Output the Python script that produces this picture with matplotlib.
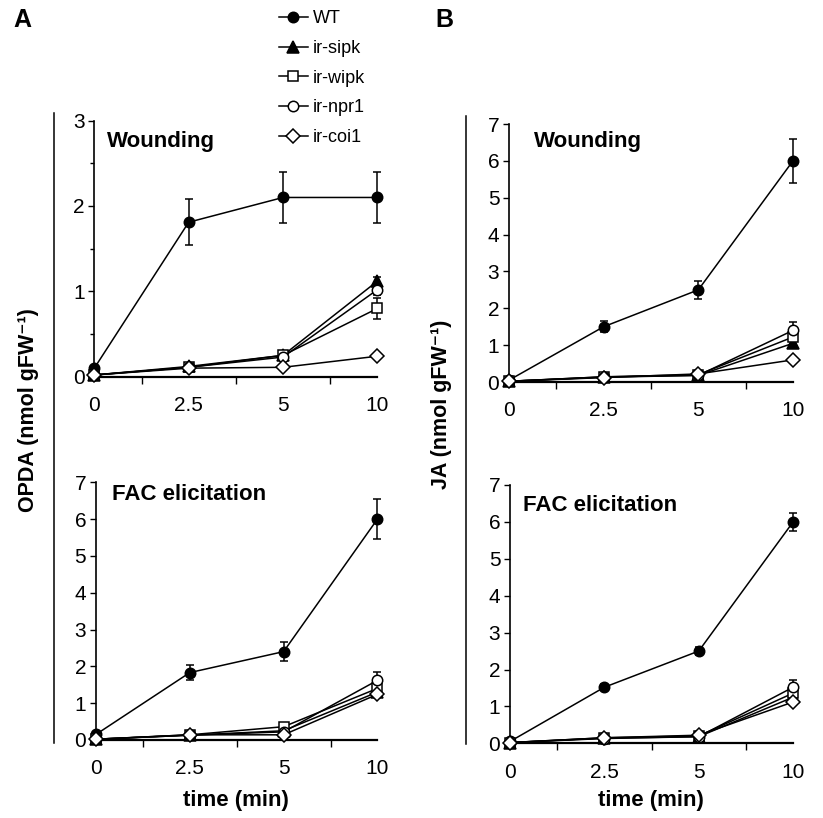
import matplotlib.pyplot as plt
from matplotlib.lines import Line2D

plt.rcParams['font.family'] = ['Liberation Sans', 'DejaVu Sans']

# x categories (min)
times = ["0", "2.5", "5", "10"]
lines = ["WT", "ir-sipk", "ir-wipk", "ir-npr1", "ir-coi1"]
markers = {"WT": "o", "ir-sipk": "^", "ir-wipk": "s", "ir-npr1": "o", "ir-coi1": "D"}
filled = {"WT": True, "ir-sipk": True, "ir-wipk": False, "ir-npr1": False, "ir-coi1": False}

# OPDA, wounding
opda_wound = {
    "WT":      [0.10, 1.81, 2.10, 2.10],
    "ir-sipk": [0.02, 0.12, 0.25, 1.12],
    "ir-wipk": [0.02, 0.11, 0.25, 0.80],
    "ir-npr1": [0.02, 0.11, 0.23, 1.02],
    "ir-coi1": [0.02, 0.10, 0.11, 0.24],
}
opda_wound_err = {
    "WT":      [0.02, 0.27, 0.30, 0.30],
    "ir-sipk": [0.0, 0.02, 0.03, 0.05],
    "ir-wipk": [0.0, 0.02, 0.03, 0.12],
    "ir-npr1": [0.0, 0.02, 0.03, 0.06],
    "ir-coi1": [0.0, 0.01, 0.02, 0.02],
}

# OPDA, FAC elicitation
opda_fac = {
    "WT":      [0.15, 1.83, 2.40, 6.00],
    "ir-sipk": [0.02, 0.13, 0.25, 1.30],
    "ir-wipk": [0.02, 0.14, 0.36, 1.40],
    "ir-npr1": [0.02, 0.13, 0.22, 1.62],
    "ir-coi1": [0.02, 0.14, 0.14, 1.24],
}
opda_fac_err = {
    "WT":      [0.05, 0.20, 0.25, 0.55],
    "ir-sipk": [0.0, 0.02, 0.03, 0.10],
    "ir-wipk": [0.0, 0.02, 0.05, 0.10],
    "ir-npr1": [0.0, 0.02, 0.03, 0.22],
    "ir-coi1": [0.0, 0.02, 0.02, 0.08],
}

# JA, wounding
ja_wound = {
    "WT":      [0.05, 1.50, 2.50, 6.00],
    "ir-sipk": [0.02, 0.14, 0.18, 1.05],
    "ir-wipk": [0.02, 0.14, 0.20, 1.22],
    "ir-npr1": [0.02, 0.13, 0.18, 1.40],
    "ir-coi1": [0.02, 0.12, 0.22, 0.60],
}
ja_wound_err = {
    "WT":      [0.02, 0.15, 0.25, 0.60],
    "ir-sipk": [0.0, 0.02, 0.02, 0.08],
    "ir-wipk": [0.0, 0.02, 0.02, 0.10],
    "ir-npr1": [0.0, 0.02, 0.02, 0.22],
    "ir-coi1": [0.0, 0.02, 0.02, 0.05],
}

# JA, FAC elicitation
ja_fac = {
    "WT":      [0.05, 1.52, 2.50, 6.00],
    "ir-sipk": [0.02, 0.14, 0.18, 1.25],
    "ir-wipk": [0.02, 0.15, 0.20, 1.36],
    "ir-npr1": [0.02, 0.13, 0.18, 1.52],
    "ir-coi1": [0.02, 0.15, 0.22, 1.12],
}
ja_fac_err = {
    "WT":      [0.02, 0.08, 0.10, 0.25],
    "ir-sipk": [0.0, 0.02, 0.02, 0.08],
    "ir-wipk": [0.0, 0.02, 0.02, 0.10],
    "ir-npr1": [0.0, 0.02, 0.02, 0.20],
    "ir-coi1": [0.0, 0.02, 0.02, 0.06],
}


def marker_size(name):
    return {"o": 7.5, "^": 8.5, "s": 7.5, "D": 7.5}[markers[name]]


def draw_panel(ax, data, err, ymax, title, tx, ty):
    x = range(len(times))
    for name in lines:
        face = "black" if filled[name] else "white"
        ax.errorbar(x, data[name], yerr=err[name], color="black", lw=1.1,
                    marker=markers[name], ms=marker_size(name), mfc=face, mec="black", mew=1.1,
                    capsize=3, elinewidth=1.1, capthick=1.1, clip_on=False, zorder=3)
    ax.set_xlim(0, 3)
    ax.set_ylim(0, ymax)
    ax.set_xticks(list(x))
    ax.set_xticklabels(times, fontsize=15)
    ax.set_xticks([0, 0.5, 1.5, 2.5, 3], minor=True)
    ax.tick_params(axis="x", which="major", length=0, pad=14)
    ax.tick_params(axis="x", which="minor", length=5, width=1, direction="out")
    ax.set_yticks(range(0, ymax + 1))
    if ymax == 3:
        ax.set_yticks([0.5, 1.5, 2.5], minor=True)
        ax.tick_params(axis="y", which="minor", length=3, width=1, direction="out")
    ax.tick_params(axis="y", which="major", labelsize=15, length=4, width=1, pad=3)
    for s in ["top", "right"]:
        ax.spines[s].set_visible(False)
    ax.spines["bottom"].set_linewidth(1.6)
    ax.spines["left"].set_linewidth(1.2)
    ax.text(tx, ty, title, transform=ax.transAxes, fontsize=16, fontweight="bold",
            va="center", ha="left")


fig = plt.figure(figsize=(8.23, 8.18), dpi=100)

ax1 = fig.add_axes([0.1146, 0.5395, 0.344, 0.313])
ax2 = fig.add_axes([0.1166, 0.0954, 0.342, 0.315])
ax3 = fig.add_axes([0.6185, 0.533, 0.345, 0.3154])
ax4 = fig.add_axes([0.6197, 0.0913, 0.344, 0.3158])

draw_panel(ax1, opda_wound, opda_wound_err, 3, "Wounding", 0.046, 0.92)
draw_panel(ax2, opda_fac, opda_fac_err, 7, "FAC elicitation", 0.057, 0.951)
draw_panel(ax3, ja_wound, ja_wound_err, 7, "Wounding", 0.088, 0.934)
draw_panel(ax4, ja_fac, ja_fac_err, 7, "FAC elicitation", 0.046, 0.922)

# long vertical lines left of each column
fig.add_artist(Line2D([0.0656, 0.0656], [0.0917, 0.8619], color="black", lw=1.1))
fig.add_artist(Line2D([0.5662, 0.5662], [0.0905, 0.858], color="black", lw=1.1))

fig.text(0.035, 0.499, "OPDA (nmol gFW\u207b\u00b9)", rotation=90, fontsize=15.5,
         fontweight="bold", ha="center", va="center")
fig.text(0.537, 0.506, "JA (nmol gFW\u207b\u00b9)", rotation=90, fontsize=15.5,
         fontweight="bold", ha="center", va="center")
fig.text(0.287, 0.022, "time (min)", fontsize=16, fontweight="bold", ha="center", va="center")
fig.text(0.791, 0.022, "time (min)", fontsize=16, fontweight="bold", ha="center", va="center")

fig.text(0.016, 0.975, "A", fontsize=18, fontweight="bold", ha="left", va="center")
fig.text(0.529, 0.975, "B", fontsize=18, fontweight="bold", ha="left", va="center")

handles = []
for name in lines:
    face = "black" if filled[name] else "white"
    handles.append(Line2D([], [], color="black", lw=1.1, marker=markers[name],
                          ms=marker_size(name), mfc=face, mec="black", mew=1.1))
fig.legend(handles, lines, loc="upper left", bbox_to_anchor=(0.33, 0.996), frameon=False,
           fontsize=13, handlelength=1.6, handletextpad=0.3, labelspacing=0.7, borderaxespad=0)

fig.savefig("out.png", dpi=100)
